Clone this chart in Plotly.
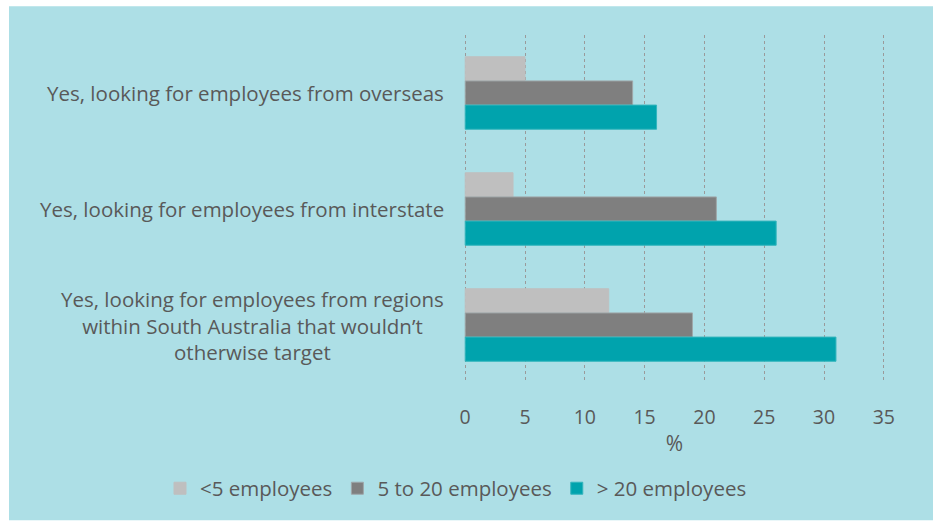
import plotly.graph_objects as go

categories = [
    "Yes, looking for employees from overseas",
    "Yes, looking for employees from interstate",
    "Yes, looking for employees from regions<br>within South Australia that wouldn’t<br>otherwise target",
]
series_names = ["<5 employees", "5 to 20 employees", "> 20 employees"]
small = [5, 4, 12]
medium = [14, 21, 19]
large = [16, 26, 31]
x_ticks = [0, 5, 10, 15, 20, 25, 30, 35]

colors = ["#BFBFBF", "#7F7F7F", "#00A3AD"]
edge = ["#BFBFBF", "#9FA7A9", "#33B5BD"]

W, H = 933, 521
L, R, T, B = 464, 48, 35, 136
pw, ph = W - L - R, H - T - B


def px_x(px):
    return (px - L) / pw


def px_y(py):
    return (T + ph - py) / ph


fig = go.Figure()
for name, vals, c, e in zip(series_names, [small, medium, large], colors, edge):
    fig.add_trace(go.Bar(
        y=categories, x=vals, name=name, orientation="h",
        marker=dict(color=c, line=dict(color=e, width=1)),
    ))

text_color = "#595959"
font_family = "Open Sans"

for cat in categories:
    fig.add_annotation(
        x=px_x(446), xref="paper", y=cat, yref="y",
        text=cat, showarrow=False, xanchor="right", yanchor="middle",
        align="center", font=dict(family=font_family, size=20.5, color=text_color),
    )

# light-blue panel with a thin white border at left/top
fig.add_shape(
    type="rect", xref="paper", yref="paper", layer="below",
    x0=px_x(9), x1=px_x(W + 2), y0=px_y(H + 2), y1=px_y(6),
    fillcolor="#ADDFE6", line=dict(width=0),
)

fig.update_layout(
    width=W, height=H,
    margin=dict(l=L, r=R, t=T, b=B),
    paper_bgcolor="white",
    plot_bgcolor="rgba(0,0,0,0)",
    barmode="group",
    bargap=0.375,
    bargroupgap=0,
    font=dict(family=font_family, size=19, color=text_color),
    xaxis=dict(
        range=[-0.1, 35.1], tickvals=x_ticks, showgrid=True,
        gridcolor="#9A9A9A", griddash="dot", gridwidth=1,
        zeroline=False, showline=False,
        ticks="outside", ticklen=17, tickcolor="rgba(0,0,0,0)",
        tickfont=dict(size=19.5, color=text_color),
        title=dict(text="%", font=dict(size=21, color=text_color), standoff=6),
        fixedrange=True,
    ),
    yaxis=dict(
        autorange="reversed", showticklabels=False, showgrid=False,
        zeroline=False, showline=False, ticks="",
    ),
    legend=dict(
        orientation="h", x=px_x(160), xanchor="left",
        y=px_y(491), yanchor="middle",
        font=dict(size=20.5, color=text_color),
        traceorder="normal",
        bgcolor="rgba(0,0,0,0)",
    ),
    showlegend=True,
)

fig.write_html("out.html")
